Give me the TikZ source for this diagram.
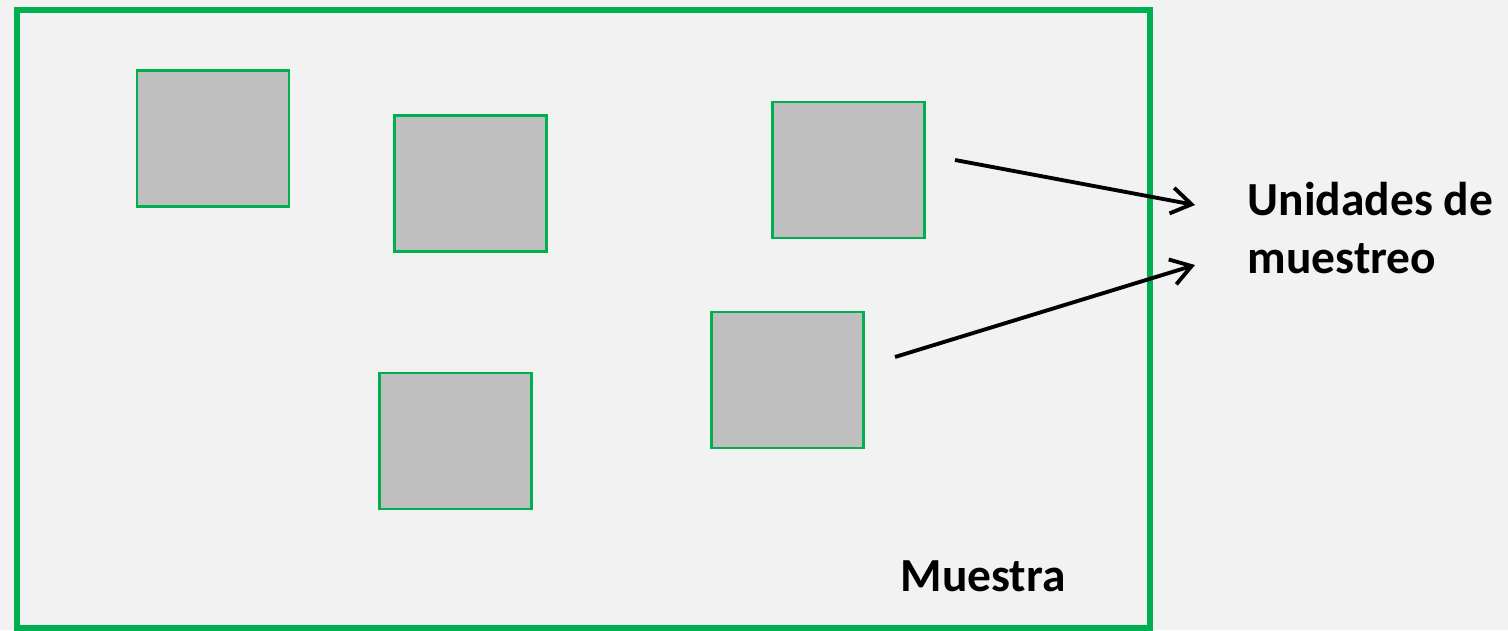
\documentclass[tikz,border=0pt]{standalone}
\usepackage{fontspec}
\setmainfont{Carlito}
\usetikzlibrary{arrows.meta}

\definecolor{verde}{HTML}{00B050}
\definecolor{gris}{HTML}{BFBFBF}
\definecolor{fondo}{HTML}{F2F2F2}

\begin{document}
\begin{tikzpicture}[x=1cm,y=1cm,
   unidad/.style={draw=verde,fill=gris,line width=0.8pt,minimum width=1.52cm,minimum height=1.36cm,inner sep=0pt},
   marco/.style={draw=verde,line width=1.7pt},
   flecha/.style={-{Straight Barb[length=2mm,width=2.6mm]},line width=1.1pt},
   rotulo/.style={font=\fontsize{13.5}{16.5}\selectfont\bfseries,inner sep=0pt}]
% fondo y marco de la muestra
\fill[fondo] (0,0) rectangle (15.08,6.30);
\draw[marco] (0.17,0.02) rectangle (11.50,6.20);
% unidades
\node[unidad] (u1) at (2.13,4.915) {};
\node[unidad] (u2) at (4.705,4.465) {};
\node[unidad] (u3) at (8.485,4.60) {};
\node[unidad] (u4) at (7.875,2.50) {};
\node[unidad] (u5) at (4.555,1.89) {};
% textos
\node[rotulo,anchor=base west] (muestra) at (9.00,0.38) {Muestra};
\node[rotulo,anchor=north west,align=left] (unidades) at (12.47,4.48) {Unidades de\\muestreo};
% flechas
\coordinate (a1) at (9.55,4.70);
\coordinate (b1) at (11.95,4.25);
\coordinate (a2) at (8.95,2.73);
\coordinate (b2) at (11.95,3.65);
\draw[flecha] (a1) -- (b1);
\draw[flecha] (a2) -- (b2);
\end{tikzpicture}
\end{document}
